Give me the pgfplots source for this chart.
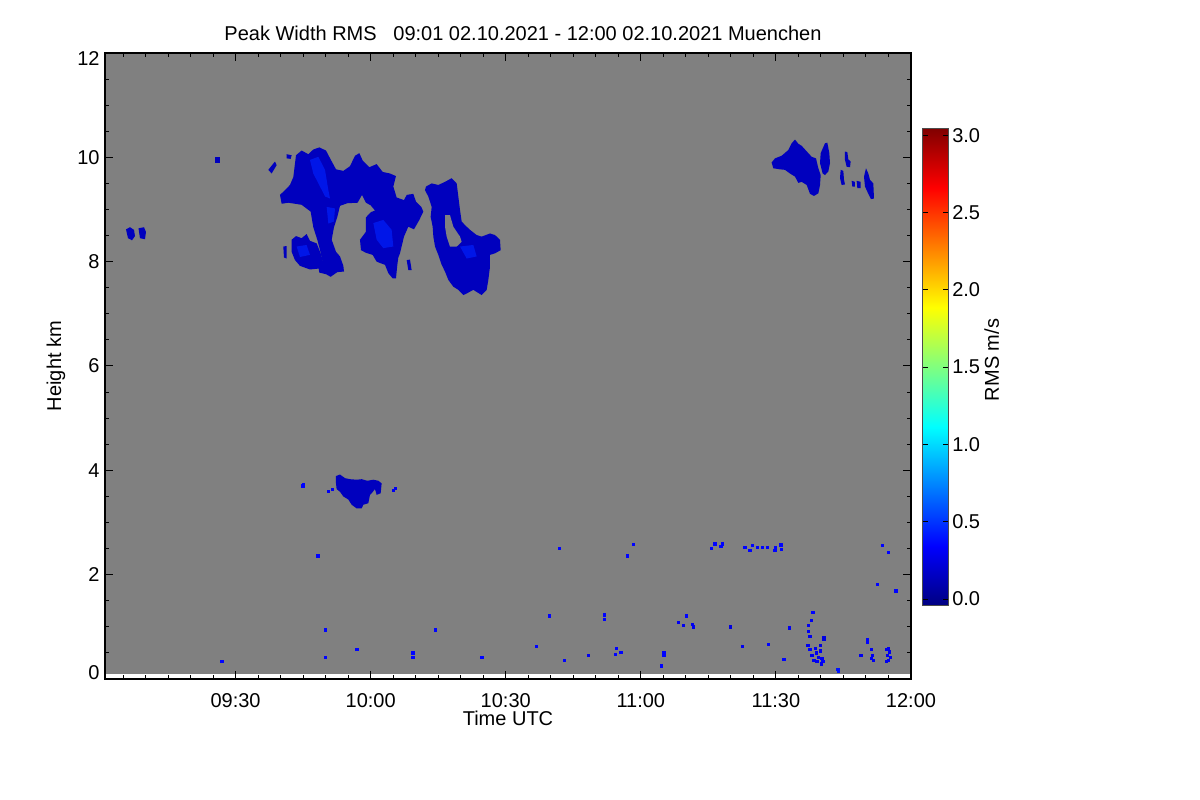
\documentclass[border=0pt]{standalone}
\usepackage{fontspec}
\setmainfont{Liberation Sans}
\usepackage{pgfplots}
\usepackage{pgfplotstable}
\pgfplotsset{compat=1.18}
\definecolor{bg}{RGB}{128,128,128}
\definecolor{blobdark}{RGB}{0,0,190}
\definecolor{bloblight}{RGB}{0,22,232}
\pgfplotsset{
  /pgf/number format/assume math mode=true,
  every tick label/.append style={font=\fontsize{10bp}{12bp}\selectfont},
  every axis label/.append style={font=\fontsize{10bp}{12bp}\selectfont},
  every axis title/.append style={font=\fontsize{10bp}{12bp}\selectfont},
}
\pgfplotstableread{
t h m
26.98 0.345 0.35
48.30 2.36 0.35
49.86 0.94 0.35
49.86 0.42 0.35
56.96 0.56 0.35
69.40 0.50 0.35
69.40 0.42 0.35
74.29 0.94 0.35
84.72 0.42 0.35
44.97 3.70 0.35
45.04 3.72 0.35
65.42 3.66 0.35
96.85 0.62 0.35
99.67 1.21 0.35
101.89 2.51 0.35
103.00 0.36 0.35
108.33 0.46 0.30
111.88 1.14 0.35
111.88 1.23 0.35
114.63 0.58 0.35
114.41 0.47 0.35
115.59 0.51 0.35
116.99 2.36 0.35
118.32 2.58 0.35
125.14 0.51 0.35
125.14 0.46 0.35
124.63 0.25 0.35
128.31 1.08 0.30
129.42 1.02 0.30
130.18 1.21 0.35
131.51 1.05 0.30
131.65 1.00 0.30
135.73 2.51 0.35
136.46 2.59 0.35
137.80 2.54 0.35
138.09 2.59 0.35
139.95 1.00 0.25
142.62 0.62 0.30
143.13 2.52 0.35
144.24 2.46 0.35
144.75 2.56 0.35
145.86 2.52 0.35
146.97 2.52 0.35
148.08 2.52 0.35
149.79 2.46 0.35
149.95 2.52 0.35
151.12 2.57 0.35
151.19 2.49 0.35
148.30 0.67 0.35
151.79 0.38 0.35
152.97 0.98 0.30
157.18 1.02 0.30
157.27 0.91 0.30
157.56 0.81 0.30
157.94 1.12 0.30
158.23 1.28 0.35
160.67 0.80 0.25
160.67 0.77 0.25
157.12 0.65 0.30
157.56 0.56 0.35
158.01 0.46 0.30
158.68 0.59 0.30
158.90 0.50 0.30
159.35 0.42 0.30
159.79 0.65 0.25
159.79 0.54 0.30
160.23 0.40 0.30
158.45 0.36 0.30
159.12 0.33 0.30
160.45 0.33 0.35
160.01 0.29 0.30
163.85 0.14 0.40
163.78 0.19 0.40
168.89 0.46 0.30
170.38 0.70 0.35
170.23 0.75 0.35
171.27 0.56 0.30
171.49 0.46 0.30
171.71 0.36 0.30
171.27 0.40 0.30
174.61 0.56 0.30
174.84 0.46 0.30
175.06 0.36 0.30
175.28 0.52 0.30
175.51 0.42 0.30
174.61 0.33 0.30
175.06 0.59 0.30
172.51 1.82 0.35
176.66 1.69 0.35
173.62 2.56 0.35
174.95 2.43 0.35
50.60 3.60 0.30
51.50 3.64 0.30
65.10 3.62 0.30
65.50 3.66 0.30
}\specks
\begin{document}
\begin{tikzpicture}
\fill[white] (0,0) rectangle (600bp,400bp);
\useasboundingbox (0,0) rectangle (600bp,400bp);
\begin{axis}[
  at={(52.5bp,60.5bp)}, anchor=south west,
  scale only axis, width=403bp, height=313bp,
  xmin=1, xmax=180, ymin=0, ymax=12,
  axis on top,
  xtick={30,60,90,120,150,180},
  xticklabels={09:30,10:00,10:30,11:00,11:30,12:00},
  minor xtick={5,10,...,175},
  ytick={0,2,4,6,8,10,12},
  yticklabels={\raisebox{3bp}[\height][\depth]{0},2,4,6,8,10,\raisebox{-3bp}[\height][\depth]{12}},
  minor y tick num=3,
  tick align=inside,
  major tick length=4bp, minor tick length=2bp,
  every tick/.style={black, line width=0.5bp},
  axis line style={line width=0.6bp, black},
  xticklabel style={inner sep=0pt, yshift=-7bp},
  yticklabel style={inner sep=0pt, xshift=-2.5bp},
  xlabel={Time UTC},
  xlabel style={at={(axis description cs:0.5,-0.0623)}, anchor=center},
  ylabel={Height km},
  ylabel style={at={(axis description cs:-0.0608,0.5)}, anchor=center},
  title={Peak Width RMS\ \ \ 09:01 02.10.2021 - 12:00 02.10.2021 Muenchen},
  every axis title shift=0pt,
  title style={at={(axis description cs:0.5186,1.0319)}, anchor=center},
  colormap/jet,
  point meta min=-0.045, point meta max=3.045,
  colorbar,
  colorbar style={
    at={(parent axis.south east)}, anchor=south west,
    xshift=-2.65bp, yshift=36.5bp,
    scale only axis, width=12.8bp, height=238.85bp,
    ytick={0,0.5,1,1.5,2,2.5,3},
    yticklabel style={inner sep=0pt, xshift=1.8bp,
      /pgf/number format/fixed, /pgf/number format/fixed zerofill,
      /pgf/number format/precision=1},
    ylabel={RMS m/s},
    ylabel style={at={(axis description cs:2.695,0.515)}, anchor=center},
    tick align=inside, major tick length=2.5bp,
    every tick/.style={black, line width=0.4bp},
    axis line style={line width=0.5bp, black!70},
  },
]
% background (no-signal) field from the first range gate upward
\addplot[fill=bg, draw=none, forget plot] coordinates {(1,0.1) (180,0.1) (180,12) (1,12)};

% main cloud A+B
\addplot[fill=blobdark, draw=none, forget plot] coordinates {
(42.82,9.62) (43.42,10.04) (44.67,10.13) (46.15,10.06) (47.26,10.15) (48.60,10.19)
(50.08,10.13) (51.11,9.96) (52.30,9.77) (53.93,9.74) (55.41,9.83) (56.52,10.03)
(57.48,10.08) (58.22,9.94) (59.70,9.81) (61.33,9.87) (62.66,9.72) (64.29,9.69)
(65.62,9.64) (65.03,9.44) (65.77,9.23) (67.40,9.18) (68.01,9.28) (69.47,9.30)
(70.07,9.15) (71.25,9.05) (71.69,8.96) (70.81,8.80) (69.62,8.62) (68.36,8.67)
(67.40,8.48) (66.51,8.16) (66.14,8.08) (65.92,7.94) (65.62,7.68) (64.88,7.68)
(63.92,7.78) (63.18,7.94) (62.22,7.97) (61.33,8.00) (60.44,8.13) (58.96,8.17)
(57.85,8.22) (57.63,8.42) (58.96,8.575) (58.96,8.85) (60.07,8.95) (60.96,8.98)
(60.00,9.08) (58.96,9.13) (58.07,9.28) (57.11,9.13) (54.82,9.12) (53.19,9.07)
(52.60,8.86) (51.85,8.66) (51.34,8.42) (52.30,8.19) (53.19,8.10) (53.93,7.92)
(54.08,7.81) (52.60,7.80) (51.11,7.71) (50.08,7.76) (48.60,7.79) (48.38,7.90)
(49.34,8.00) (48.75,8.22) (48.15,8.42) (47.26,8.66) (46.67,8.96) (44.67,9.09)
(41.71,9.13) (40.23,9.11) (39.86,9.28) (40.97,9.37) (42.08,9.47)
};
% lower-left lobe C
\addplot[fill=blobdark, draw=none, forget plot] coordinates {
(42.45,8.42) (43.42,8.49) (44.67,8.45) (45.78,8.53) (46.52,8.40) (48.01,8.35)
(48.89,8.16) (49.49,7.98) (48.75,7.87) (46.52,7.85) (44.30,7.92) (43.19,8.03) (42.45,8.19)
};
\addplot[fill=blobdark, draw=none, forget plot] coordinates {(40.60,8.29) (41.34,8.30) (41.34,8.06) (40.75,8.08)};
\addplot[fill=blobdark, draw=none, forget plot] coordinates {(68.0,8.03) (68.73,8.04) (69.1,7.84) (68.36,7.84)};
\addplot[fill=blobdark, draw=none, forget plot] coordinates {(37.27,9.76) (38.75,9.92) (39.12,9.85) (38.01,9.69)};
\addplot[fill=blobdark, draw=none, forget plot] coordinates {(41.34,10.06) (42.45,10.04) (42.23,9.97) (41.34,9.98)};
% ring-shaped cloud D
\addplot[fill=blobdark, draw=none, forget plot] coordinates {
(72.29,9.44) (73.55,9.50) (75.03,9.47) (76.51,9.53) (77.99,9.60) (79.10,9.50)
(79.47,9.25) (79.84,8.99) (80.21,8.77) (80.95,8.70) (82.06,8.61) (83.54,8.51)
(84.65,8.48) (86.50,8.54) (87.61,8.51) (88.72,8.42) (88.87,8.22) (87.61,8.16)
(86.50,8.13) (86.50,7.90) (86.13,7.65) (85.76,7.46) (84.65,7.36) (82.80,7.46)
(81.32,7.39) (80.58,7.36) (79.47,7.46) (78.36,7.52) (77.25,7.65) (76.51,7.81)
(75.77,7.94) (75.03,8.13) (74.29,8.29) (73.92,8.48) (73.77,8.67) (73.32,8.86)
(73.55,9.05) (72.80,9.25) (72.06,9.37)
};
% brighter cores
\addplot[fill=bloblight, draw=none, forget plot] coordinates {
(46.52,9.95) (48.38,10.01) (49.86,9.76) (50.60,9.37) (50.97,9.21) (49.86,9.25) (48.75,9.44) (47.26,9.69)};
\addplot[fill=bloblight, draw=none, forget plot] coordinates {(50.23,9.05) (52.08,9.02) (51.85,8.77) (50.60,8.73)};
\addplot[fill=bloblight, draw=none, forget plot] coordinates {(60.59,8.74) (62.81,8.80) (64.66,8.61) (65.03,8.29) (62.81,8.26) (61.33,8.42)};
\addplot[fill=bloblight, draw=none, forget plot] coordinates {(79.84,8.29) (82.80,8.32) (83.54,8.10) (81.32,8.06)};
\addplot[fill=bloblight, draw=none, forget plot] coordinates {(43.56,8.29) (45.78,8.32) (46.52,8.13) (44.30,8.09)};
% hole of D
\addplot[fill=bg, draw=none, forget plot] coordinates {
(76.51,8.89) (77.62,8.89) (78.36,8.67) (79.84,8.48) (80.21,8.38) (79.10,8.29) (77.62,8.29) (76.88,8.48) (76.51,8.67)};
% small clouds at left
\addplot[fill=blobdark, draw=none, forget plot] coordinates {(5.66,8.62) (6.55,8.66) (7.44,8.61) (7.66,8.49) (7.00,8.41) (6.11,8.45)};
\addplot[fill=blobdark, draw=none, forget plot] coordinates {(8.44,8.64) (9.66,8.66) (10.10,8.57) (9.88,8.43) (8.77,8.45)};
\addplot[fill=blobdark, draw=none, forget plot] coordinates {(25.47,10.01) (26.65,10.01) (26.65,9.90) (25.47,9.90)};
% cloud cluster near 11:30
\addplot[fill=blobdark, draw=none, forget plot] coordinates {
(149.05,9.90) (149.79,9.98) (151.27,10.03) (152.75,10.14) (153.49,10.27) (154.24,10.34)
(154.98,10.26) (155.72,10.22) (156.46,10.15) (157.20,10.08) (157.94,10.01) (158.90,9.98)
(159.42,9.79) (159.94,9.66) (159.79,9.47) (159.42,9.31) (158.45,9.26) (157.57,9.30)
(156.83,9.47) (155.72,9.53) (154.98,9.51) (154.24,9.63) (153.12,9.69) (152.01,9.76)
(150.90,9.77) (149.42,9.79)};
\addplot[fill=blobdark, draw=none, forget plot] coordinates {
(159.94,10.08) (160.90,10.27) (161.42,10.28) (161.86,10.08) (162.01,9.89) (161.64,9.73) (160.90,9.66) (160.38,9.69) (159.79,9.89)};
\addplot[fill=blobdark, draw=none, forget plot] coordinates {
(165.34,10.11) (165.86,10.10) (166.08,9.96) (166.60,9.92) (166.45,9.81) (165.71,9.82) (165.34,9.95)};
\addplot[fill=blobdark, draw=none, forget plot] coordinates {
(164.38,9.76) (164.97,9.74) (165.12,9.57) (165.34,9.48) (164.60,9.47) (164.23,9.60)};
\addplot[fill=blobdark, draw=none, forget plot] coordinates {(166.82,9.55) (167.56,9.53) (167.56,9.44) (166.97,9.44)};
\addplot[fill=blobdark, draw=none, forget plot] coordinates {(167.93,9.55) (168.82,9.53) (168.82,9.41) (168.08,9.41)};
\addplot[fill=blobdark, draw=none, forget plot] coordinates {
(170.00,9.79) (170.52,9.69) (170.89,9.57) (171.63,9.50) (171.78,9.21) (171.11,9.20) (170.52,9.30) (169.78,9.44) (169.56,9.63)};
% low cloud near 3.6 km
\addplot[fill=blobdark, draw=none, forget plot] coordinates {
(52.30,3.89) (53.18,3.92) (54.30,3.85) (55.41,3.83) (56.89,3.82) (58.00,3.83)
(59.26,3.80) (60.59,3.82) (61.70,3.80) (62.44,3.75) (62.22,3.56) (61.33,3.53)
(60.96,3.64) (60.22,3.56) (59.85,3.53) (59.48,3.37) (58.37,3.34) (58.00,3.27)
(56.89,3.27) (55.78,3.34) (55.04,3.44) (53.92,3.50) (53.18,3.59) (52.44,3.64) (52.30,3.75)};
% isolated returns
\addplot[scatter, only marks, mark=square*, mark size=0.55bp, point meta=explicit,
  scatter/use mapped color={draw=mapped color, fill=mapped color}, forget plot]
  table[x=t, y=h, meta=m] {\specks};
\end{axis}
\end{tikzpicture}
\end{document}
